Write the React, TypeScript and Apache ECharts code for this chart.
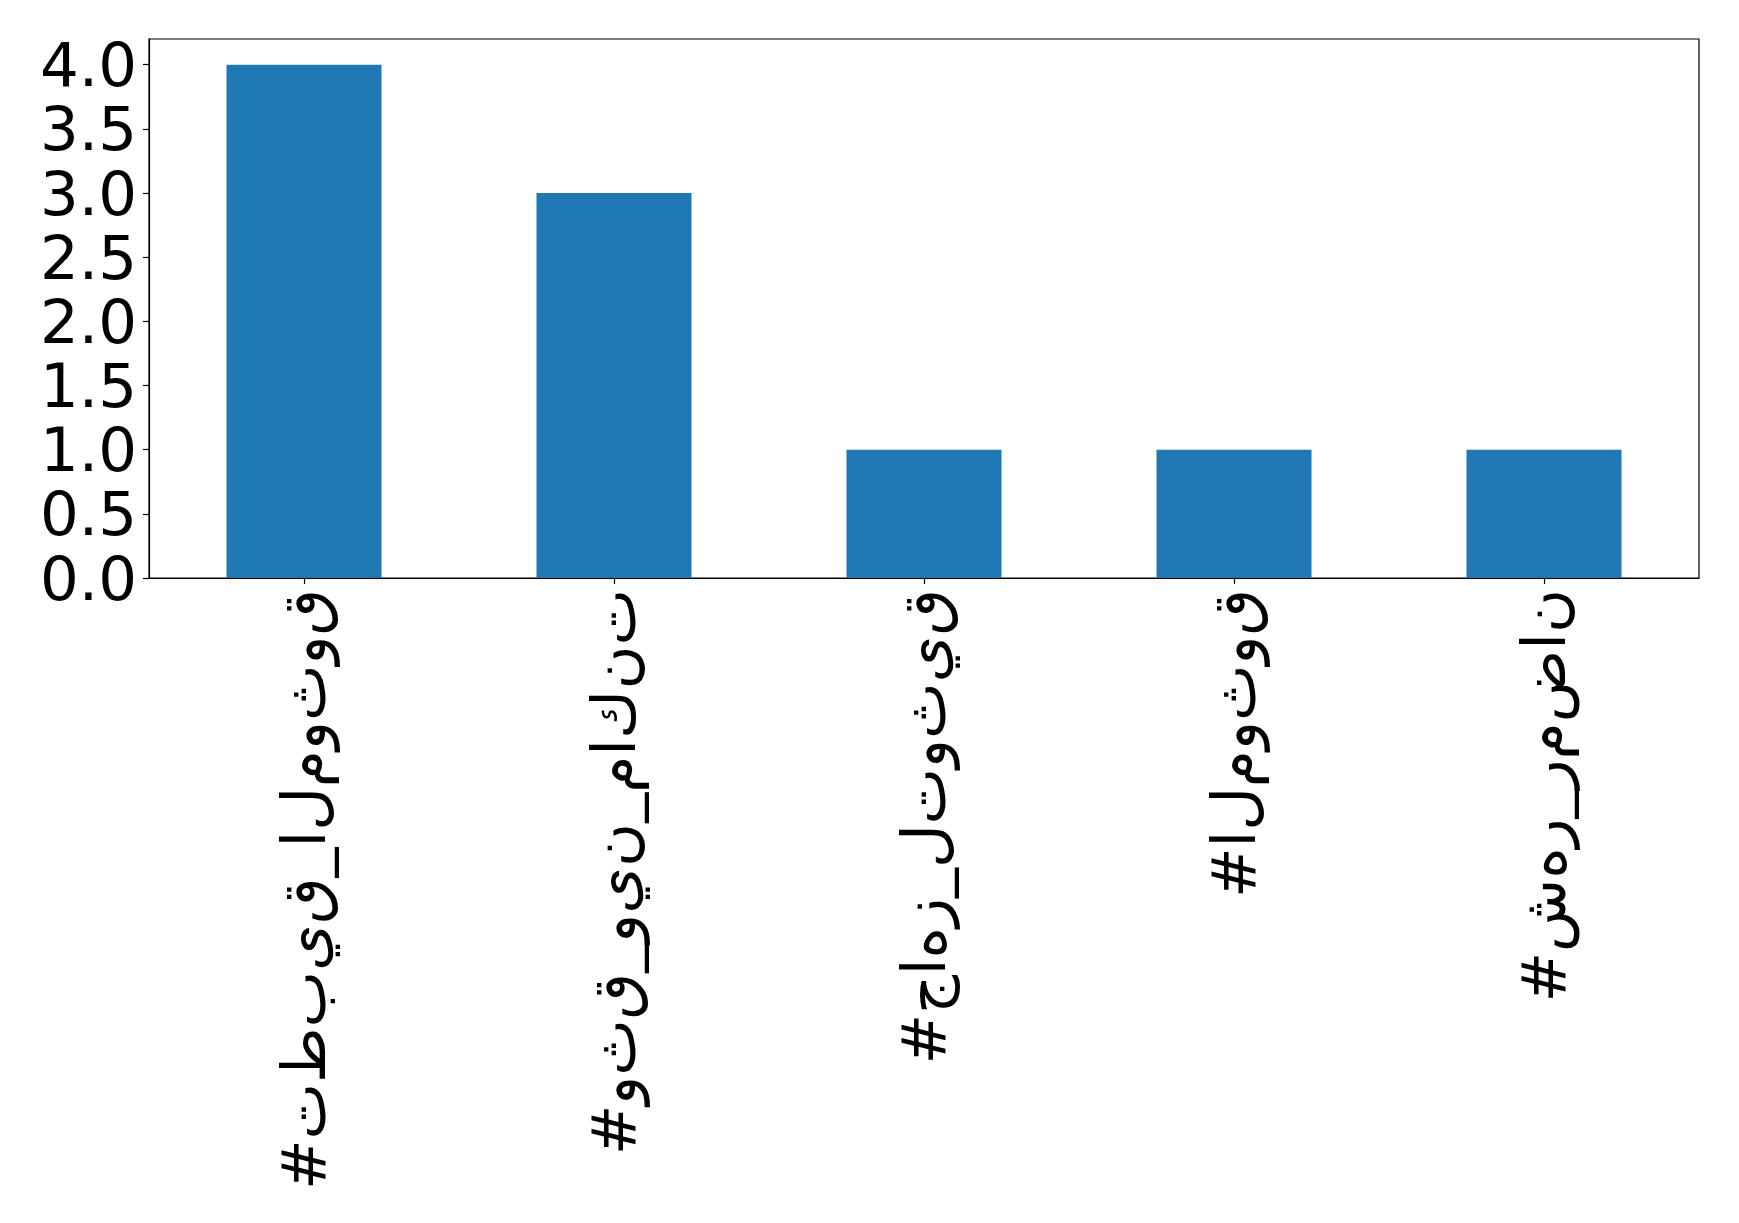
import React, { useEffect, useRef } from "react";
import * as echarts from "echarts";

const categories = [
  "#تطبيق_الموثوق",
  "#وثق_وين_ماكنت",
  "#جاهز_لتوثيق",
  "#الموثوق",
  "#شهر_رمضان",
];
const counts = [4, 3, 1, 1, 1];
const yTickValues = [0, 0.5, 1, 1.5, 2, 2.5, 3, 3.5, 4];

export default function App() {
  const ref = useRef<HTMLDivElement>(null);
  useEffect(() => {
    document.body.style.margin = "0";
    const chart = echarts.init(ref.current!, null, { renderer: "svg" });
    const font = "DejaVu Sans";
    chart.setOption({
      animation: false,
      backgroundColor: "#ffffff",
      grid: {
        left: 149,
        right: 40,
        top: 39,
        bottom: 645,
        show: true,
        borderColor: "#000",
        borderWidth: 1.2,
        backgroundColor: "transparent",
      },
      xAxis: {
        type: "category",
        data: categories,
        axisLine: { show: true, lineStyle: { color: "#000", width: 1.2 } },
        axisTick: { show: true, alignWithLabel: true, length: 6, lineStyle: { color: "#000", width: 1.2 } },
        axisLabel: {
          rotate: 90,
          interval: 0,
          margin: 11,
          color: "#000",
          fontSize: 60,
          fontFamily: font,
        },
        splitLine: { show: false },
      },
      yAxis: {
        type: "value",
        min: 0,
        max: 4.2,
        interval: 0.5,
        axisLine: { show: true, lineStyle: { color: "#000", width: 1.2 } },
        axisTick: { show: true, length: 6, lineStyle: { color: "#000", width: 1.2 } },
        splitLine: { show: false },
        axisLabel: {
          margin: 12,
          color: "#000",
          fontSize: 61,
          fontFamily: font,
          showMaxLabel: false,
          formatter: (v: number) =>
            yTickValues.some((t) => Math.abs(t - v) < 1e-9) ? v.toFixed(1) : "",
        },
      },
      series: [
        {
          type: "bar",
          data: counts,
          barWidth: "50%",
          itemStyle: { color: "#1f77b4" },
        },
      ],
    });
    return () => chart.dispose();
  }, []);
  return (
    <>
      <style>{`#chart text { unicode-bidi: bidi-override; direction: ltr; font-feature-settings: "init" 0, "medi" 0, "fina" 0, "rlig" 0, "calt" 0, "liga" 0; }`}</style>
      <div id="chart" ref={ref} style={{ width: 1739, height: 1223 }} />
    </>
  );
}
